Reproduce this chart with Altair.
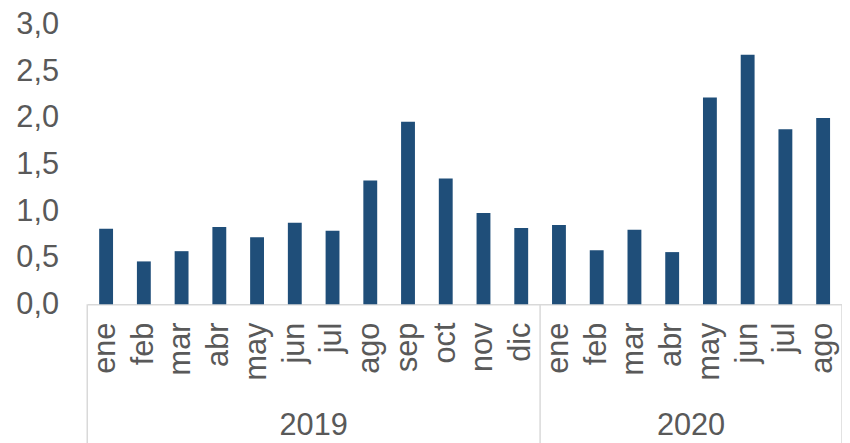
import altair as alt
import pandas as pd

years = ["2019", "2020"]
months_2019 = ["ene", "feb", "mar", "abr", "may", "jun", "jul", "ago", "sep", "oct", "nov", "dic"]
months_2020 = ["ene", "feb", "mar", "abr", "may", "jun", "jul", "ago"]
values_2019 = [0.81, 0.46, 0.57, 0.83, 0.72, 0.875, 0.79, 1.33, 1.96, 1.35, 0.98, 0.82]
values_2020 = [0.85, 0.58, 0.80, 0.56, 2.22, 2.68, 1.88, 2.00]

rows = []
for y, ms, vs in [("2019", months_2019, values_2019), ("2020", months_2020, values_2020)]:
    for m, v in zip(ms, vs):
        rows.append({"key": f"{y}|{m}", "year": y, "month": m, "value": v})
df = pd.DataFrame(rows)
order = list(df["key"])

# group info derived from the data
grp = []
for y, ms in [("2019", months_2019), ("2020", months_2020)]:
    keys = [f"{y}|{m}" for m in ms]
    n = len(keys)
    grp.append({"year": y, "first": keys[0], "last": keys[-1], "mid": keys[n // 2]})
gdf = pd.DataFrame(grp)

H = 282
GRAY = "#595959"
LINE = "#d9d9d9"
FONT = "Liberation Sans"

xscale = alt.Scale(domain=order, paddingInner=0, paddingOuter=0)

bars = alt.Chart(df).mark_bar(size=14, color="#1F4E79").encode(
    x=alt.X("key:N", scale=xscale, sort=order,
            axis=alt.Axis(title=None, labelAngle=270, labelFontSize=31, labelColor=GRAY,
                          labelFont=FONT, labelPadding=18, ticks=False,
                          domainColor=LINE, domainWidth=1.5,
                          labelExpr="split(datum.value, '|')[1]")),
    y=alt.Y("value:Q", scale=alt.Scale(domain=[0, 3], nice=False),
            axis=alt.Axis(title=None, values=[0, 0.5, 1, 1.5, 2, 2.5, 3], grid=False,
                          domain=False, ticks=False, labelFontSize=31, labelColor=GRAY,
                          labelFont=FONT, labelPadding=29,
                          labelExpr="replace(format(datum.value, '.1f'), '.', ',')")),
)

sep_left = alt.Chart(gdf).mark_rule(color=LINE, strokeWidth=1.5).encode(
    x=alt.X("first:N", scale=xscale, sort=order, bandPosition=0),
    y=alt.value(H), y2=alt.value(H + 140),
)
sep_right = alt.Chart(gdf.tail(1)).mark_rule(color=LINE, strokeWidth=1.5).encode(
    x=alt.X("last:N", scale=xscale, sort=order, bandPosition=1),
    y=alt.value(H), y2=alt.value(H + 140),
)
year_text = alt.Chart(gdf).mark_text(fontSize=31, color=GRAY, font=FONT,
                                     baseline="alphabetic", align="center").encode(
    x=alt.X("mid:N", scale=xscale, sort=order, bandPosition=0),
    y=alt.value(H + 132),
    text="year:N",
)

chart = alt.layer(bars, sep_left, sep_right, year_text).properties(
    width=762, height=H,
    autosize=alt.AutoSizeParams(type="none"),
    padding={"left": 80, "top": 15, "right": 0, "bottom": 138},
).configure_view(stroke=None)

chart.save("out.html", embed_options={"renderer": "svg", "actions": False})
